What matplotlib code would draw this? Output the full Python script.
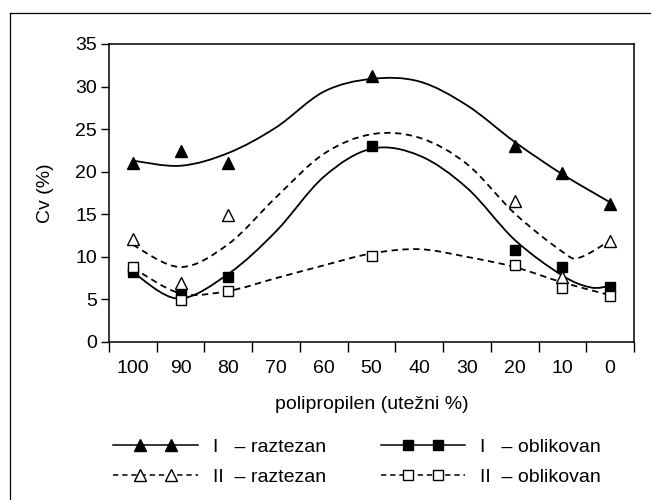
import numpy as np
import matplotlib
matplotlib.use('Agg')
import matplotlib.pyplot as plt
from matplotlib.path import Path
from matplotlib.patches import PathPatch
from matplotlib.lines import Line2D
from matplotlib.legend_handler import HandlerLine2DCompound

plt.rcParams['font.family'] = ['Liberation Sans', 'DejaVu Sans']

# x categories (polypropylene, weight %)
categories = ['100', '90', '80', '70', '60', '50', '40', '30', '20', '10', '0']
measured = ['100', '90', '80', '50', '20', '10', '0']

# measured Cv (%) values
I_raztezan = [21.0, 22.4, 21.0, 31.3, 23.0, 19.9, 16.2]
I_oblikovan = [8.2, 5.9, 7.6, 23.0, 10.8, 8.8, 6.5]
II_raztezan = [12.1, 6.9, 14.9, np.nan, 16.6, 7.6, 11.9]
II_oblikovan = [8.8, 4.9, 6.0, 10.1, 9.0, 6.3, 5.4]

# trend curves (category position, value)
trend_I_raz_x = [0, 1, 2, 3, 4, 5, 6, 7, 8, 9, 10]
trend_I_raz = [21.3, 20.7, 22.2, 25.2, 29.4, 30.9, 30.6, 27.8, 23.5, 19.7, 16.4]
trend_I_obl_x = [0, 0.95, 2, 3, 4, 5, 6, 7, 8, 9, 9.6, 10]
trend_I_obl = [8.2, 5.1, 8.0, 13.0, 19.4, 22.7, 21.9, 18.1, 12.0, 7.8, 6.4, 6.6]
trend_II_raz_x = [0, 1, 2, 3, 4, 5, 6, 7, 8, 9, 9.35, 10]
trend_II_raz = [11.4, 8.8, 11.5, 17.0, 22.1, 24.4, 24.0, 20.9, 15.1, 10.6, 9.9, 11.9]
trend_II_obl_x = [0, 1, 2, 3, 4, 5, 6, 7, 8, 9, 10]
trend_II_obl = [8.7, 5.7, 6.0, 7.5, 9.0, 10.4, 10.9, 10.0, 8.8, 7.0, 5.5]


def smooth_path(x, y):
    # Catmull-Rom through the points, drawn as cubic Bezier segments
    p = np.column_stack([x, y]).astype(float)
    ext = np.vstack([p[0], p, p[-1]])
    verts = [p[0]]
    codes = [Path.MOVETO]
    for i in range(len(p) - 1):
        p0, p1, p2, p3 = ext[i], ext[i + 1], ext[i + 2], ext[i + 3]
        c1 = p1 + (p2 - p0) / 6.0
        c2 = p2 - (p3 - p1) / 6.0
        verts += [c1, c2, p2]
        codes += [Path.CURVE4] * 3
    return Path(verts, codes)


class FullLineHandler(HandlerLine2DCompound):
    # line over the whole handle, two markers set in from the ends
    def get_xdata(self, legend, xdescent, ydescent, width, height, fontsize):
        pad = self._marker_pad * fontsize
        xm = np.linspace(-xdescent + pad, -xdescent + width - pad, 2)
        return np.array([-xdescent, -xdescent + width]), xm


fs = 14
fig = plt.figure(figsize=(6.51, 5.0), dpi=100)
ax = fig.add_axes([109 / 651, 1 - 342 / 500, 525 / 651, 298 / 500])

dash = (0, (3.5, 2.5))
curves = [
    (trend_I_raz_x, trend_I_raz, '-'),
    (trend_I_obl_x, trend_I_obl, '-'),
    (trend_II_raz_x, trend_II_raz, dash),
    (trend_II_obl_x, trend_II_obl, dash),
]
for cx, cy, ls in curves:
    ax.add_patch(PathPatch(smooth_path(cx, cy), fill=False, ec='black',
                           lw=1.3, ls=ls, capstyle='butt'))

xpos = [categories.index(m) for m in measured]
styles = [
    (I_raztezan, '^', 'black', 9),
    (I_oblikovan, 's', 'black', 7),
    (II_raztezan, '^', 'white', 9),
    (II_oblikovan, 's', 'white', 7),
]
for vals, mk, fc, ms in styles:
    ax.plot(xpos, vals, ls='none', marker=mk, ms=ms, mfc=fc, mec='black',
            mew=1.0, zorder=3)

ax.set_xlim(-0.5, 10.5)
ax.set_ylim(0, 35)
ax.set_yticks(np.arange(0, 36, 5))
ax.set_xticks(np.arange(-0.5, 11, 1))
ax.set_xticklabels([])
ax.set_xticks(np.arange(11), minor=True)
ax.set_xticklabels(categories, minor=True)
ax.tick_params(axis='x', which='major', direction='out', length=7, width=1)
ax.tick_params(axis='x', which='minor', length=0, pad=13, labelsize=fs)
ax.tick_params(axis='y', direction='out', length=5.5, width=1, pad=3,
               labelsize=fs)
for s in ax.spines.values():
    s.set_linewidth(1.1)

ax.set_ylabel('Cv (%)', fontsize=fs)
ax.yaxis.set_label_coords(-0.105, 0.5)
ax.set_xlabel('polipropilen (utežni %)', fontsize=fs)
ax.xaxis.set_label_coords(0.5, -0.18)

handles = [
    Line2D([], [], color='black', lw=1.1, marker='^', ms=9, mfc='black',
           mec='black'),
    Line2D([], [], color='black', lw=1.1, ls=dash, marker='^', ms=9,
           mfc='white', mec='black'),
    Line2D([], [], color='black', lw=1.1, marker='s', ms=7, mfc='black',
           mec='black'),
    Line2D([], [], color='black', lw=1.1, ls=dash, marker='s', ms=7,
           mfc='white', mec='black'),
]
labels = ['I   – raztezan', 'II  – raztezan', 'I   – oblikovan',
          'II  – oblikovan']
fig.legend(handles, labels, loc='upper left',
           bbox_to_anchor=(113 / 651, 1 - 438 / 500), ncol=2, frameon=False,
           fontsize=fs, borderpad=0, borderaxespad=0, handlelength=4.37,
           handletextpad=0.77, columnspacing=2.8, labelspacing=0.65,
           handler_map={Line2D: FullLineHandler(marker_pad=1.4, numpoints=2)})

# outer frame
fig.add_artist(Line2D([10 / 651, 1], [1 - 13 / 500] * 2,
                      transform=fig.transFigure, color='black', lw=0.9))
fig.add_artist(Line2D([10 / 651] * 2, [0, 1 - 13 / 500],
                      transform=fig.transFigure, color='black', lw=0.9))

fig.savefig('out.png', dpi=100)
